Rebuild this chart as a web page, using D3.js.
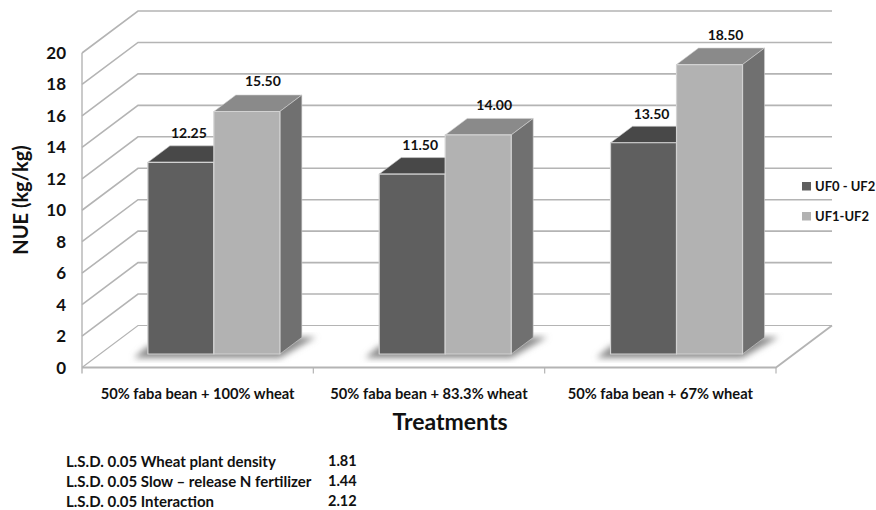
<!DOCTYPE html>
<html>
<head>
<meta charset="utf-8">
<script src="https://cdn.jsdelivr.net/npm/d3@7"></script>
<style>
  html, body { margin: 0; padding: 0; background: #fff; }
  text { font-family: Lato, "Open Sans", sans-serif; font-weight: 700; fill: #111; }
</style>
</head>
<body>
<div id="chart"></div>
<script>
const categories = ["50% faba bean + 100% wheat", "50% faba bean + 83.3% wheat", "50% faba bean + 67% wheat"];
const seriesNames = ["UF0 - UF2", "UF1-UF2"];
const uf0Values = [12.25, 11.5, 13.5];
const uf1Values = [15.5, 14, 18.5];
const yTicks = d3.range(0, 21, 2);
const lsdLabels = ["L.S.D. 0.05 Wheat plant density", "L.S.D. 0.05 Slow \u2013 release N fertilizer", "L.S.D. 0.05 Interaction"];
const lsdValues = ["1.81", "1.44", "2.12"];

const width = 876, height = 510;
const wallDx = 56, wallDy = -42;   // oblique offset of the back wall
const barFrontDx = 17.7, barFrontDy = -13.5; // where bar fronts stand on the floor
const barDepthDx = 22, barDepthDy = -16.5;

const colors = [
  { front: "#5f5f5f", top: "#484848", side: "#505050" },
  { front: "#b2b2b2", top: "#8a8a8a", side: "#707070" }
];
const gridColor = "#b4b4b4";

const svg = d3.select("#chart").append("svg")
  .attr("width", width)
  .attr("height", height);

const defs = svg.append("defs");
defs.append("filter").attr("id", "blur")
  .attr("x", "-20%").attr("y", "-20%").attr("width", "140%").attr("height", "140%")
  .append("feGaussianBlur").attr("stdDeviation", 3);

const x = d3.scaleBand().domain(categories).range([82, 776]);
const y = d3.scaleLinear().domain([0, 20]).range([367.5, 53]);
const xBar = d3.scaleBand().domain([0, 1]).range([0, 132]);

const line = d3.line();
const poly = pts => line(pts) + "Z";

// walls
const grid = svg.append("g").attr("fill", "none").attr("stroke", gridColor);

grid.selectAll("path.tick")
  .data(yTicks)
  .join("path")
  .attr("stroke-width", d => d === 0 ? 1.2 : 1.6)
  .attr("d", d => line([
    [x.range()[0], y(d)],
    [x.range()[0] + wallDx, y(d) + wallDy],
    [x.range()[1] + wallDx, y(d) + wallDy]
  ]));

grid.append("path")
  .attr("stroke-width", 1.4)
  .attr("d", line([[x.range()[0], y(20)], [x.range()[0], y(0) + 6]]));

grid.append("path")
  .attr("stroke-width", 1.8)
  .attr("d", line([[x.range()[0], y(0)], [x.range()[1], y(0)], [x.range()[1] + wallDx, y(0) + wallDy]]));

grid.selectAll("path.cat")
  .data(categories)
  .join("path")
  .attr("stroke-width", 1.2)
  .attr("d", d => line([[x(d) + x.bandwidth(), y(0)], [x(d) + x.bandwidth(), y(0) + 6]]));

// y axis labels
svg.append("g").selectAll("text")
  .data(yTicks)
  .join("text")
  .attr("x", 66)
  .attr("y", d => y(d) + 6)
  .attr("text-anchor", "end")
  .attr("font-size", 17)
  .text(d => d);

// bars
const groups = svg.append("g").selectAll("g")
  .data(categories)
  .join("g")
  .attr("transform", d => `translate(${x(d) + x.bandwidth() / 2 - 67.5 + barFrontDx},0)`);

const baseY = y(0) + barFrontDy;
const unit = (y(0) - y(1)) * 0.995;

// floor shadow
groups.append("path")
  .attr("fill", "#8c8c8c")
  .attr("filter", "url(#blur)")
  .attr("d", poly([
    [-14, baseY + 4],
    [132, baseY + 4],
    [168, baseY - 17],
    [150, baseY - 17],
    [0, baseY - 8]
  ]));

function drawBar(g, val, s) {
  const x0 = xBar(s), x1 = x0 + xBar.bandwidth();
  const top = baseY - val * unit;
  const c = colors[s];
  const bar = g.append("g").attr("stroke", "#d2d2d2").attr("stroke-width", 1.2).attr("stroke-linejoin", "round");
  bar.append("path").attr("fill", c.top).attr("stroke-width", 0.6)
    .attr("d", poly([[x0, top], [x0 + barDepthDx, top + barDepthDy], [x1 + barDepthDx, top + barDepthDy], [x1, top]]));
  bar.append("path").attr("fill", c.side).attr("stroke-width", 0.6)
    .attr("d", poly([[x1, top], [x1 + barDepthDx, top + barDepthDy], [x1 + barDepthDx, baseY + barDepthDy], [x1, baseY]]));
  bar.append("path").attr("fill", c.front)
    .attr("d", poly([[x0, top], [x1, top], [x1, baseY], [x0, baseY]]));
}

groups.each(function(d, i) {
  const g = d3.select(this);
  drawBar(g, uf0Values[i], 0);
  drawBar(g, uf1Values[i], 1);
});

// value labels
const labelOffset = [{ dx: 8, dy: -24 }, { dx: 16, dy: -25 }];
[uf0Values, uf1Values].forEach((vals, s) => {
  groups.append("text")
    .attr("x", xBar(s) + xBar.bandwidth() / 2 + labelOffset[s].dx)
    .attr("y", (d, i) => baseY - vals[i] * unit + labelOffset[s].dy)
    .attr("text-anchor", "middle")
    .attr("font-size", 14)
    .text((d, i) => vals[i].toFixed(2));
});

// category labels
svg.append("g").selectAll("text")
  .data(categories)
  .join("text")
  .attr("x", d => x(d) + x.bandwidth() / 2)
  .attr("y", 399)
  .attr("text-anchor", "middle")
  .attr("font-size", 14.7)
  .text(d => d);

// axis titles
svg.append("text")
  .attr("transform", "translate(28,200) rotate(-90)")
  .attr("text-anchor", "middle")
  .attr("font-size", 20)
  .text("NUE (kg/kg)");

svg.append("text")
  .attr("x", 450)
  .attr("y", 430)
  .attr("text-anchor", "middle")
  .attr("font-size", 23)
  .text("Treatments");

// legend
const legend = svg.append("g").selectAll("g")
  .data(seriesNames)
  .join("g")
  .attr("transform", (d, i) => `translate(802,${182 + i * 30})`);

legend.append("rect")
  .attr("width", 9)
  .attr("height", 8.5)
  .attr("fill", (d, i) => colors[i].front);

legend.append("text")
  .attr("x", 13)
  .attr("y", 9)
  .attr("font-size", 13)
  .text(d => d);

// L.S.D. notes
const notes = svg.append("g").selectAll("g")
  .data(lsdLabels)
  .join("g")
  .attr("transform", (d, i) => `translate(0,${467 + i * 20})`);

notes.append("text").attr("x", 66).attr("font-size", 15).text(d => d);
notes.append("text").attr("x", 328).attr("y", -1).attr("font-size", 14.5).text((d, i) => lsdValues[i]);
</script>
</body>
</html>
